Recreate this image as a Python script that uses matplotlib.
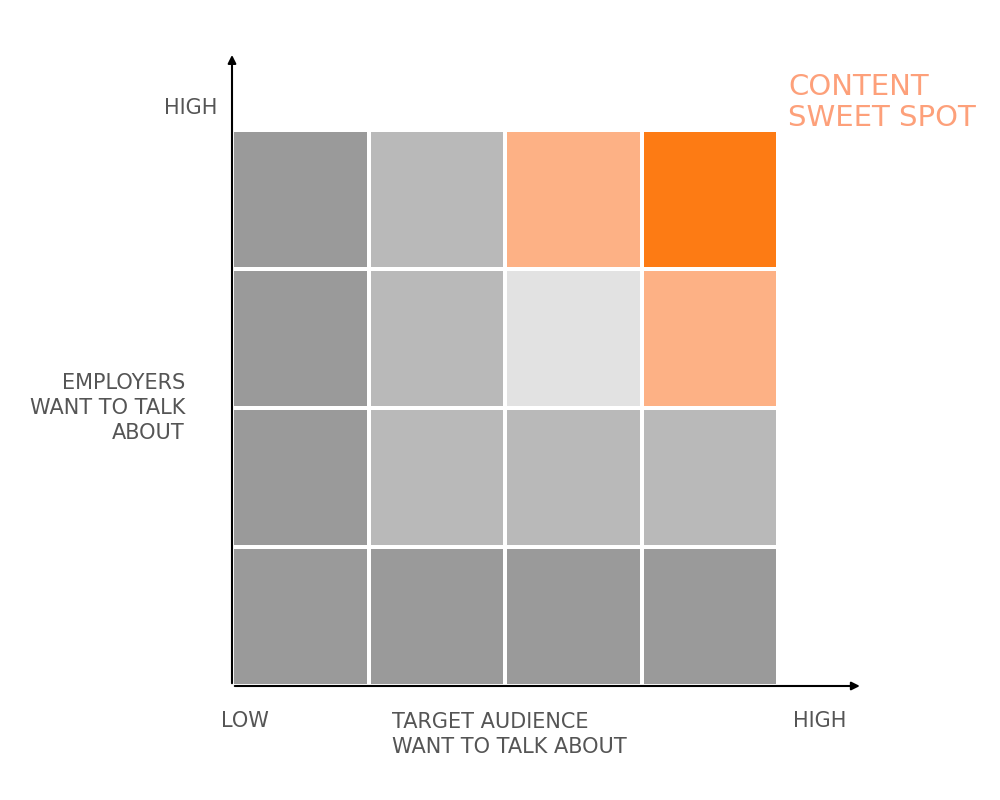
import matplotlib
matplotlib.use("Agg")
import matplotlib.pyplot as plt
from matplotlib.colors import ListedColormap
import numpy as np

# levels: 0 dark gray, 1 light gray, 2 pale gray, 3 light orange, 4 orange
rows_top_to_bottom = [
    [0, 1, 3, 4],
    [0, 1, 2, 3],
    [0, 1, 1, 1],
    [0, 0, 0, 0],
]
level_colors = ["#9a9a9a", "#b9b9b9", "#e2e2e2", "#fdb185", "#fd7b14"]
x_labels = ["LOW", "TARGET AUDIENCE\nWANT TO TALK ABOUT", "HIGH"]
y_labels = ["HIGH", "EMPLOYERS\nWANT TO TALK\nABOUT"]
callout = "CONTENT\nSWEET SPOT"

fig = plt.figure(figsize=(10, 8), dpi=100)
ax = fig.add_axes([0.232, 0.1425, 0.546, 0.695])
data = np.array(rows_top_to_bottom[::-1])
cmap = ListedColormap(level_colors)
ax.pcolormesh(np.arange(5), np.arange(5), data, cmap=cmap, vmin=-0.5, vmax=4.5,
              edgecolors="white", linewidth=1.5)
ax.set_xlim(0, 4); ax.set_ylim(0, 4)
ax.axis("off")

arrow = dict(arrowstyle="-|>", color="black", lw=1.5, mutation_scale=12)
ax.annotate("", xy=(0, 1.14), xytext=(0, 0), xycoords="axes fraction", arrowprops=arrow)
ax.annotate("", xy=(1.155, 0), xytext=(0, 0), xycoords="axes fraction", arrowprops=arrow)

tc = "#555555"
fs = 15
fig.text(0.217, 0.865, y_labels[0], ha="right", va="center", color=tc, fontsize=fs)
fig.text(0.185, 0.49, y_labels[1], ha="right", va="center", color=tc, fontsize=fs, linespacing=1.3)
fig.text(0.245, 0.099, x_labels[0], ha="center", va="center", color=tc, fontsize=fs)
fig.text(0.392, 0.082, x_labels[1], ha="left", va="center", color=tc, fontsize=fs, linespacing=1.3)
fig.text(0.82, 0.099, x_labels[2], ha="center", va="center", color=tc, fontsize=fs)
fig.text(0.788, 0.872, callout, ha="left", va="center", color="#fda07a", fontsize=21, linespacing=1.1)

fig.savefig("out.png", dpi=100, facecolor="white")
